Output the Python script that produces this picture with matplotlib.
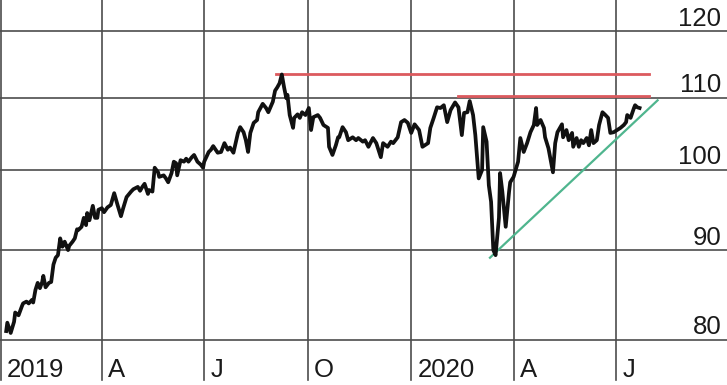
import pandas as pd
import matplotlib
matplotlib.use("Agg")
import matplotlib.pyplot as plt

# calendar days after 2019-01-01 and index level
days = [5, 6, 9, 12, 13, 16, 19, 20, 23, 25, 28, 29, 31, 33, 35, 37, 38, 40, 43, 45,
        47, 49, 51, 53, 55, 57, 60, 61, 64, 66, 68, 69, 72, 74, 76, 77, 79, 82, 84, 86,
        87, 90, 92, 95, 98,
        101, 104, 107, 109, 112, 116, 118, 122, 124, 126, 128, 131, 132, 135, 137, 140, 141, 145, 147, 149,
        152, 154, 156, 157, 160, 163, 165, 167, 170, 172, 175, 178, 180, 181,
        185, 187, 189, 193, 196, 199, 202, 204, 207, 211, 213, 216, 218, 220, 222, 225, 228, 229,
        233, 236, 238, 242, 244, 246, 248, 250, 252, 254, 255, 257, 260, 261, 264, 266, 268, 271, 274,
        276, 278, 282, 284, 287, 291, 292, 295, 298, 300, 301, 304, 307, 309, 313, 316, 318, 322, 324,
        327, 331, 334, 338, 340, 344, 347, 349, 353, 356, 359, 362, 365, 368,
        372, 375, 380, 382, 385, 388, 391, 394, 397, 400, 404, 407, 410, 412, 415, 417, 420, 422, 425,
        428, 429, 432, 434, 436, 438, 440, 443, 444, 446, 449, 452, 453, 456, 460, 462,
        465, 468, 471, 474, 476, 477, 480, 483, 484, 487, 491, 493, 495, 499, 500, 503, 505, 508, 509,
        512, 514, 516, 518, 521, 523, 525, 527, 530, 532, 535, 537, 540, 542, 545, 548, 551, 554, 556,
        557, 560, 563, 564, 566, 568]
values = [80.9, 81.8, 80.7, 81.9, 82.9, 82.6, 83.6, 83.9, 84.1, 83.9, 84.3, 84.0, 85.4, 86.2, 85.6, 86.3, 87.0, 85.7, 86.2, 86.3,
          88.3, 89.1, 89.4, 91.4, 90.4, 91.0, 90.0, 90.5, 91.0, 91.4, 92.5, 92.4, 92.8, 93.9, 93.0, 94.5, 93.6, 95.4, 93.9, 93.9,
          94.9, 95.1, 94.6, 95.2, 95.5,
          97.0, 95.5, 94.1, 95.1, 96.5, 97.2, 97.5, 97.8, 97.3, 97.8, 98.2, 96.9, 97.4, 97.2, 100.3, 99.7, 99.1, 99.3, 98.9, 98.4,
          99.6, 101.1, 100.9, 99.3, 101.3, 101.1, 101.5, 101.1, 101.7, 102.0, 101.1, 100.7, 100.3, 101.1,
          102.4, 102.7, 103.2, 102.3, 102.4, 103.6, 102.7, 103.0, 102.3, 105.0, 105.8, 105.1, 104.0, 102.4, 105.0, 106.4, 106.8, 107.9,
          109.1, 108.5, 107.9, 109.4, 111.0, 111.5, 112.1, 113.4, 111.5, 109.9, 110.4, 107.5, 105.7, 107.1, 107.6, 107.1, 107.9, 107.5, 108.5,
          105.4, 107.2, 107.5, 107.1, 106.1, 105.7, 103.1, 102.0, 103.3, 104.4, 104.4, 105.8, 105.1, 104.0, 104.4, 104.0, 104.3, 103.8, 104.0,
          103.1, 104.3, 103.6, 101.7, 103.6, 103.1, 103.8, 103.6, 104.4, 106.5, 106.8, 106.4, 105.0, 106.2,
          105.4, 103.1, 103.6, 105.7, 107.1, 108.6, 108.5, 108.9, 106.5, 108.2, 109.3, 108.6, 104.7, 107.8, 107.9, 109.5, 107.5, 104.7, 98.9,
          100.0, 105.8, 103.8, 98.0, 95.9, 90.0, 89.4, 93.9, 99.6, 97.2, 92.8, 97.2, 98.4, 99.1, 101.1, 104.3,
          102.4, 103.6, 105.1, 106.1, 108.5, 106.1, 106.8, 105.7, 104.4, 102.9, 99.7, 103.6, 105.1, 106.2, 104.4, 105.4, 104.0, 105.0, 103.1,
          104.3, 103.1, 104.0, 103.6, 104.3, 103.3, 105.4, 103.6, 104.0, 106.1, 107.9, 107.6, 107.1, 105.0, 105.1, 105.4, 105.7, 106.1, 106.5,
          107.5, 107.1, 108.5, 108.9, 108.6, 108.5]

# resistance levels (start day, end day, level) and rising support line
resist_start = [245, 407]
resist_end = [576, 576]
resist_level = [113.4, 110.2]
support_days = [435, 584]
support_values = [89.1, 109.6]

tick_dates = ['2019-01-01', '2019-04-01', '2019-07-01', '2019-10-01',
              '2020-01-01', '2020-04-01', '2020-07-01']
tick_labels = ['2019', 'A', 'J', 'O', '2020', 'A', 'J']
y_levels = [80, 90, 100, 110, 120]

start = pd.Timestamp('2019-01-01')
dates = start + pd.to_timedelta(days, unit='D')

plt.rcParams['font.family'] = ['Liberation Sans Narrow', 'Liberation Sans', 'DejaVu Sans']

fig = plt.figure(figsize=(7.27, 3.85), dpi=100)
ax = fig.add_axes([0, 0, 1, 1])
ax.set_yscale('log')
ax.set_ylim(75.36, 125.07)
ax.set_xlim(start - pd.Timedelta(hours=12), start + pd.Timedelta(days=645.7))
for s in ax.spines.values():
    s.set_visible(False)
ax.set_xticks([])
ax.set_yticks([])
ax.minorticks_off()

grid_col = '#4d4d4d'
for lv in y_levels:
    ax.axhline(lv, color=grid_col, lw=1.2, zorder=1)
    ax.annotate(str(lv), xy=(1, lv), xycoords=('axes fraction', 'data'),
                xytext=(-4, 4), textcoords='offset points',
                ha='right', va='baseline', fontsize=18.5, color='#1a1a1a')

for d, lab in zip(tick_dates, tick_labels):
    td = pd.Timestamp(d)
    ax.axvline(td, ymin=0.013, ymax=1, color=grid_col, lw=1.2, zorder=1)
    ax.annotate(lab, xy=(td, 0.021), xycoords=('data', 'axes fraction'),
                xytext=(4.5, 0), textcoords='offset points',
                ha='left', va='baseline', fontsize=18.5, color='#1a1a1a')

for s0, s1, lv in zip(resist_start, resist_end, resist_level):
    ax.plot([start + pd.Timedelta(days=s0), start + pd.Timedelta(days=s1)], [lv, lv],
            color='#dc5a5e', lw=2.0, zorder=2)

ax.plot(start + pd.to_timedelta(support_days, unit='D'), support_values,
        color='#4fb58e', lw=1.6, zorder=2)

ax.plot(dates, values, color='#111111', lw=2.7, solid_joinstyle='round', zorder=3)

fig.savefig('out.png', dpi=100)
